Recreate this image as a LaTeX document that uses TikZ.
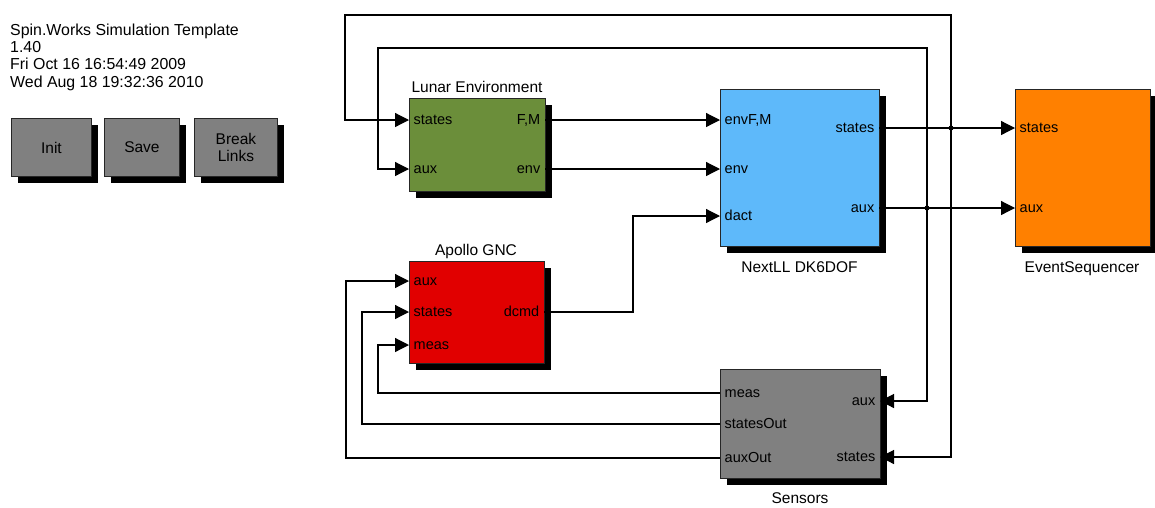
\documentclass[tikz,border=0pt]{standalone}
\usepackage{fontspec}
\setmainfont{Liberation Sans}
\usetikzlibrary{shadows, arrows.meta, calc, positioning}

\definecolor{envgreen}{RGB}{107,142,58}
\definecolor{dynblue}{RGB}{94,185,250}
\definecolor{gncred}{RGB}{225,0,0}
\definecolor{seqorange}{RGB}{255,128,0}
\definecolor{sensgray}{RGB}{128,128,128}

\begin{document}
\begin{tikzpicture}[x=1pt, y=-1pt,
	block/.style={draw=black!85, line width=0.9pt, anchor=north west, inner sep=0pt,
		drop shadow={shadow xshift=7pt, shadow yshift=-7pt, fill=black, opacity=1}},
	title/.style={font=\fontsize{15.5}{17}\selectfont, anchor=base, inner sep=0pt},
	hdr/.style={font=\fontsize{15.9}{17}\selectfont, anchor=base west, inner sep=0pt},
	port/.style={font=\fontsize{14.5}{16}\selectfont, inner xsep=4.5pt, inner ysep=0pt, text height=0.85em, text depth=0.05em},
	inport/.style={port, anchor=west},
	outport/.style={port, anchor=east},
	wire/.style={line width=1.2pt},
	sig/.style={wire, -{Triangle[length=14pt, width=14pt]}},
	jdot/.style={circle, fill=black, inner sep=0pt, minimum size=5pt},
	button/.style={block, fill=sensgray, align=center, font=\fontsize{15.5}{17}\selectfont}]
	
	\useasboundingbox (0,0) rectangle (1155,507);
	
	% Header
	\node[hdr] (h1) at (10,35) {Spin.Works Simulation Template};
	\node[hdr] (h2) at (10,52) {1.40};
	\node[hdr] (h3) at (10,69) {Fri Oct 16 16:54:49 2009};
	\node[hdr] (h4) at (10,87) {Wed Aug 18 19:32:36 2010};
	
	% Buttons
	\node[button, minimum width=80pt, minimum height=58pt] (init) at (11,118) {Init};
	\node[button, minimum width=75pt, minimum height=58pt] (save) at (104,118) {Save};
	\node[button, minimum width=83pt, minimum height=58pt] (brk) at (194,118) {Break\\Links};
	
	% Lunar Environment
	\node[block, fill=envgreen, minimum width=136pt, minimum height=93pt] (lunar) at (409,98) {};
	\node[title] (lunar-t) at (477,92.5) {Lunar Environment};
	\node[inport] (lun-st) at (409,120) {states};
	\node[inport] (lun-aux) at (409,169) {aux};
	\node[outport] (lun-fm) at (545,120) {F,M};
	\node[outport] (lun-env) at (545,169) {env};
	
	% NextLL DK6DOF
	\node[block, fill=dynblue, minimum width=159pt, minimum height=157pt] (dk) at (720,89) {};
	\node[title] (dk-t) at (799.5,272.5) {NextLL DK6DOF};
	\node[inport] (dk-envfm) at (720,120) {envF,M};
	\node[inport] (dk-env) at (720,169) {env};
	\node[inport] (dk-dact) at (720,216) {dact};
	\node[outport] (dk-st) at (879,128) {states};
	\node[outport] (dk-aux) at (879,208) {aux};
	
	% EventSequencer
	\node[block, fill=seqorange, minimum width=135pt, minimum height=157pt] (es) at (1015,89) {};
	\node[title] (es-t) at (1082,272.5) {EventSequencer};
	\node[inport] (es-st) at (1015,128) {states};
	\node[inport] (es-aux) at (1015,208) {aux};
	
	% Apollo GNC
	\node[block, fill=gncred, minimum width=135pt, minimum height=102pt] (gnc) at (409,261) {};
	\node[title] (gnc-t) at (476,255) {Apollo GNC};
	\node[inport] (gnc-aux) at (409,281) {aux};
	\node[inport] (gnc-st) at (409,312) {states};
	\node[inport] (gnc-meas) at (409,345) {meas};
	\node[outport] (gnc-dcmd) at (544,312) {dcmd};
	
	% Sensors
	\node[block, fill=sensgray, minimum width=160pt, minimum height=109pt] (sens) at (720,369) {};
	\node[title] (sens-t) at (800,503) {Sensors};
	\node[inport] (sens-meas) at (720,393) {meas};
	\node[inport] (sens-so) at (720,424) {statesOut};
	\node[inport] (sens-ao) at (720,458) {auxOut};
	\node[outport] (sens-aux) at (880,401) {aux};
	\node[outport] (sens-st) at (880,457) {states};
	
	% Bends and junctions
	\coordinate (topA) at (345,15);
	\coordinate (topB) at (378,48);
	\coordinate (dbend) at (633,216);
	\coordinate (fbm) at (378,393);
	\coordinate (fbs) at (362,424);
	\coordinate (fba) at (346,458);
	\node[jdot] (jst) at (951,128) {};
	\node[jdot] (jax) at (927,208) {};
	
	% Wires
	\draw[sig] (lun-fm.east) -- (dk-envfm.west);
	\draw[sig] (lun-env.east) -- (dk-env.west);
	\draw[sig] (gnc-dcmd.east) -| (dbend) -- (dk-dact.west);
	\draw[sig] (dk-st.east) -- (es-st.west);
	\draw[sig] (dk-aux.east) -- (es-aux.west);
	\draw[sig] (jst.center) |- (topA) |- (lun-st.west);
	\draw[sig] (jst.center) |- (sens-st.east);
	\draw[sig] (jax.center) |- (topB) |- (lun-aux.west);
	\draw[sig] (jax.center) |- (sens-aux.east);
	\draw[sig] (sens-meas.west) -- (fbm) |- (gnc-meas.west);
	\draw[sig] (sens-so.west) -- (fbs) |- (gnc-st.west);
	\draw[sig] (sens-ao.west) -- (fba) |- (gnc-aux.west);
	
\end{tikzpicture}
\end{document}
